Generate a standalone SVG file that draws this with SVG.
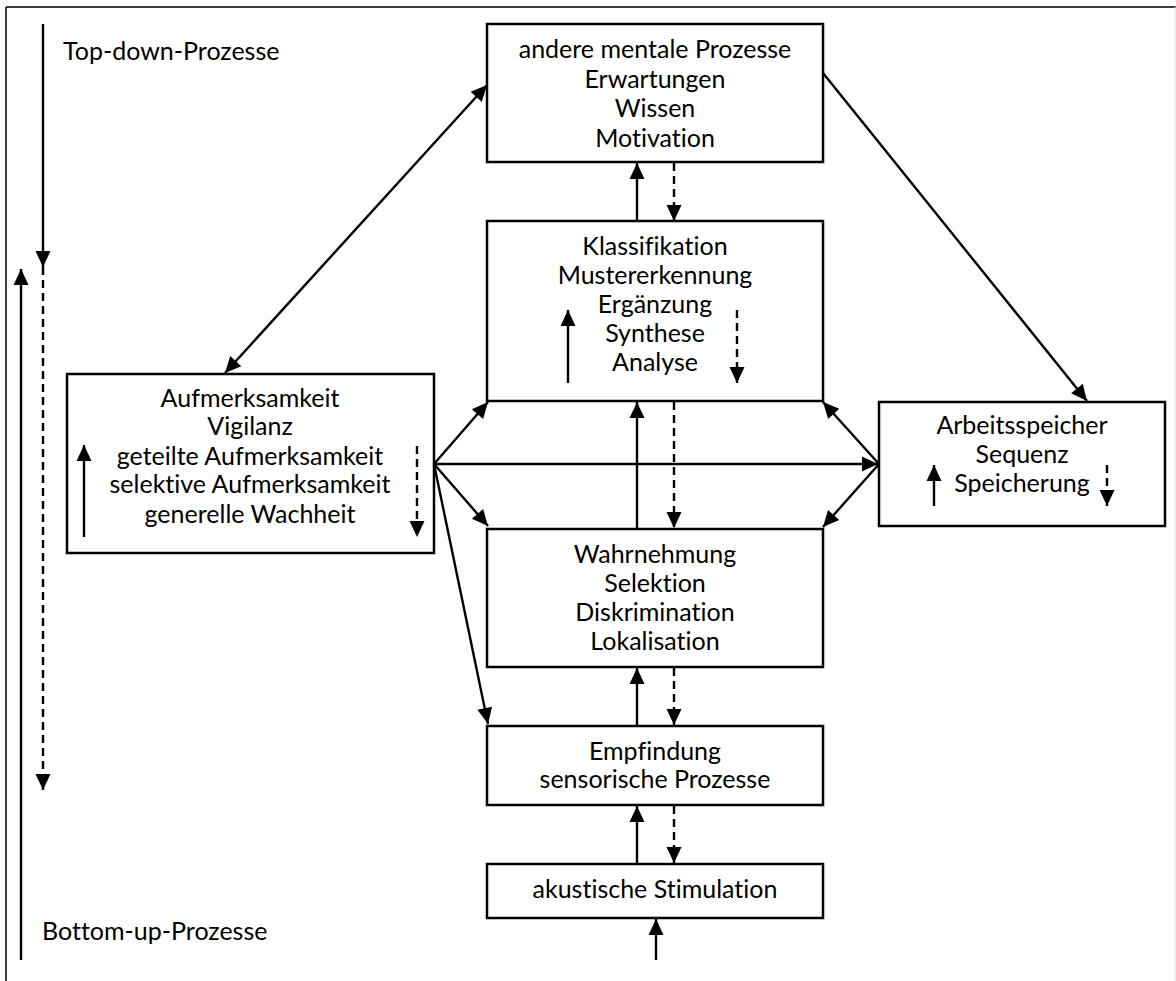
<svg xmlns="http://www.w3.org/2000/svg" width="1176" height="981" viewBox="0 0 1176 981">
<defs>
<marker id="ah" markerUnits="userSpaceOnUse" markerWidth="17" markerHeight="15" refX="16" refY="7.5" orient="auto" overflow="visible">
<path d="M0,0 L16,7.5 L0,15 Z" fill="#000" stroke="none"/>
</marker>
<marker id="ahs" markerUnits="userSpaceOnUse" markerWidth="17" markerHeight="15" refX="0" refY="7.5" orient="auto" overflow="visible">
<path d="M16,0 L0,7.5 L16,15 Z" fill="#000" stroke="none"/>
</marker>
</defs>
<style>
.box{fill:#fff;stroke:#000;stroke-width:2.5}
.t{font-family:Lato,"Open Sans",sans-serif;font-size:25px;fill:#000;text-anchor:middle;font-variant-ligatures:none}
.tl{font-family:Lato,"Open Sans",sans-serif;font-size:25px;fill:#000;font-variant-ligatures:none}
.c{stroke:#000;stroke-width:2.4;fill:none}
.a{marker-end:url(#ah)}
.d{stroke-dasharray:8 5}
</style>
<rect width="1176" height="981" fill="#fff"/>
<g id="frame">
<line x1="6" y1="7" x2="6" y2="981" stroke="#000" stroke-width="1.5"/>
<line x1="6" y1="7" x2="1176" y2="7" stroke="#000" stroke-width="1.5"/>
<line x1="1175" y1="7" x2="1175" y2="981" stroke="#e6e6e6" stroke-width="1"/>
</g>
<g id="connectors">
<line class="c a" x1="43" y1="24" x2="43" y2="267"/>
<line class="c a d" x1="43" y1="267" x2="43" y2="790"/>
<line class="c a" x1="21" y1="960" x2="21" y2="269"/>
<line class="c a" x1="225" y1="373" x2="487" y2="85" marker-start="url(#ahs)"/>
<line class="c a" x1="823" y1="73" x2="1087" y2="401"/>
<line class="c a" x1="637" y1="221" x2="637" y2="163"/>
<line class="c a d" x1="674" y1="163" x2="674" y2="221"/>
<line class="c a" x1="637" y1="529" x2="637" y2="402"/>
<line class="c a d" x1="674" y1="402" x2="674" y2="528"/>
<line class="c a" x1="637" y1="726" x2="637" y2="668"/>
<line class="c a d" x1="674" y1="668" x2="674" y2="725"/>
<line class="c a" x1="637" y1="864" x2="637" y2="806"/>
<line class="c a d" x1="674" y1="806" x2="674" y2="863"/>
<line class="c a" x1="656" y1="960" x2="656" y2="919"/>
<line class="c a" x1="434" y1="464" x2="488" y2="402"/>
<line class="c a" x1="434" y1="464" x2="878" y2="464"/>
<line class="c a" x1="434" y1="464" x2="488" y2="526"/>
<line class="c a" x1="434" y1="464" x2="488" y2="724"/>
<line class="c a" x1="879" y1="464" x2="823" y2="402"/>
<line class="c a" x1="879" y1="464" x2="823" y2="527"/>
</g>
<g id="n-top">
<rect class="box" x="487" y="24" width="336" height="138"/>
<text class="t" x="655" y="58">andere mentale Prozesse</text>
<text class="t" x="655" y="88">Erwartungen</text>
<text class="t" x="655" y="117">Wissen</text>
<text class="t" x="655" y="147">Motivation</text>
</g>
<g id="n-klass">
<rect class="box" x="487" y="221" width="336" height="180"/>
<text class="t" x="655" y="255">Klassifikation</text>
<text class="t" x="655" y="284">Mustererkennung</text>
<text class="t" x="655" y="313">Ergänzung</text>
<text class="t" x="655" y="342">Synthese</text>
<text class="t" x="655" y="371">Analyse</text>
<line class="c a" x1="568" y1="383" x2="568" y2="310"/>
<line class="c a d" x1="737" y1="310" x2="737" y2="383"/>
</g>
<g id="n-aufm">
<rect class="box" x="67" y="374" width="367" height="179"/>
<text class="t" x="250" y="407">Aufmerksamkeit</text>
<text class="t" x="250" y="435">Vigilanz</text>
<text class="t" x="250" y="465">geteilte Aufmerksamkeit</text>
<text class="t" x="250" y="493">selektive Aufmerksamkeit</text>
<text class="t" x="250" y="523">generelle Wachheit</text>
<line class="c a" x1="84" y1="537" x2="84" y2="445"/>
<line class="c a d" x1="417" y1="446" x2="417" y2="537"/>
</g>
<g id="n-arbeit">
<rect class="box" x="879" y="402" width="286" height="124"/>
<text class="t" x="1022" y="434">Arbeitsspeicher</text>
<text class="t" x="1022" y="463">Sequenz</text>
<text class="t" x="1022" y="492">Speicherung</text>
<line class="c a" x1="934" y1="506" x2="934" y2="465"/>
<line class="c a d" x1="1107" y1="465" x2="1107" y2="506"/>
</g>
<g id="n-wahr">
<rect class="box" x="487" y="529" width="336" height="138"/>
<text class="t" x="655" y="563">Wahrnehmung</text>
<text class="t" x="655" y="592">Selektion</text>
<text class="t" x="655" y="621">Diskrimination</text>
<text class="t" x="655" y="650">Lokalisation</text>
</g>
<g id="n-empf">
<rect class="box" x="487" y="726" width="336" height="79"/>
<text class="t" x="655" y="760">Empfindung</text>
<text class="t" x="655" y="788">sensorische Prozesse</text>
</g>
<g id="n-akust">
<rect class="box" x="487" y="864" width="336" height="54"/>
<text class="t" x="655" y="898">akustische Stimulation</text>
</g>
<g id="labels">
<text class="tl" x="63" y="60">Top-down-Prozesse</text>
<text class="tl" x="42" y="940">Bottom-up-Prozesse</text>
</g>
</svg>
